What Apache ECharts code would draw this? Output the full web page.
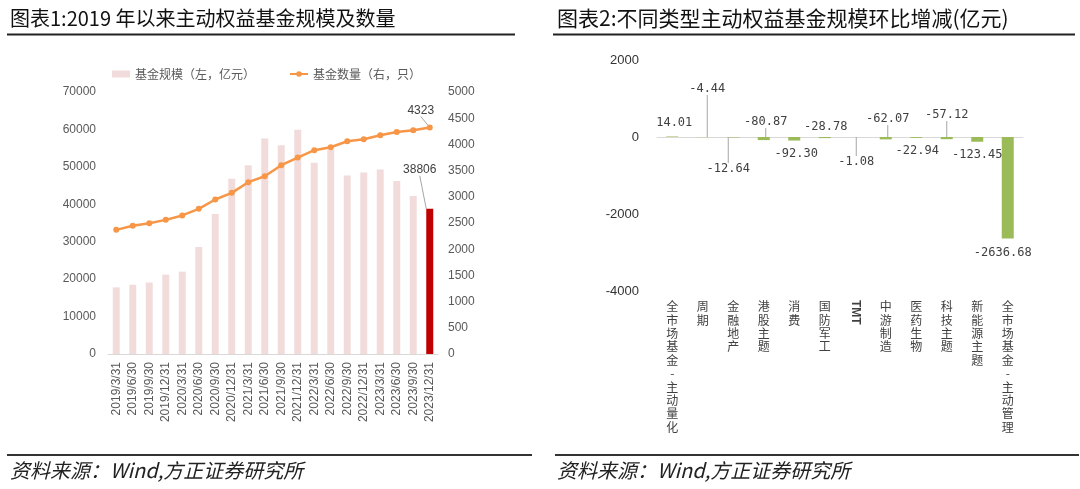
<!DOCTYPE html>
<html>
<head>
<meta charset="utf-8">
<script src="https://cdn.jsdelivr.net/npm/echarts@6/dist/echarts.min.js"></script>
<style>
html,body{margin:0;padding:0;background:#fff;}
#c{width:1080px;height:489px;}
</style>
</head>
<body>
<div id="c"></div>
<script>
// ---------- data ----------
const categoriesL = ['2019/3/31','2019/6/30','2019/9/30','2019/12/31','2020/3/31','2020/6/30','2020/9/30','2020/12/31','2021/3/31','2021/6/30','2021/9/30','2021/12/31','2022/3/31','2022/6/30','2022/9/30','2022/12/31','2023/3/31','2023/6/30','2023/9/30','2023/12/31'];
const fundScale = [17800,18500,19100,21200,22000,28600,37400,46800,50400,57600,55800,59900,51100,54600,47700,48500,49300,46200,42200,38806];
const fundCount = [2369,2446,2497,2560,2644,2770,2949,3075,3279,3393,3603,3749,3889,3946,4060,4098,4175,4238,4270,4323];

const categoriesR = ['全市场基金-主动量化','周期','金融地产','港股主题','消费','国防军工','TMT','中游制造','医药生物','科技主题','新能源主题','全市场基金-主动管理'];
const changeR = [14.01,-4.44,-12.64,-80.87,-92.30,-28.78,-1.08,-62.07,-22.94,-57.12,-123.45,-2636.68];

const legendNames = ['基金规模（左，亿元）','基金数量（右，只）'];
const title1 = '图表1:2019 年以来主动权益基金规模及数量';
const title2 = '图表2:不同类型主动权益基金规模环比增减(亿元)';
const sourceText = '资料来源：Wind,方正证券研究所';

// ---------- styles ----------
const CJK = '"Noto Sans CJK SC","Noto Sans",sans-serif';
const LAT = '"Liberation Sans",Arial,sans-serif';
// label offsets (dx, dy) for right chart relative to bar centre / zero line
const rOffsets = [[2,-14],[4.5,-48],[-5,32],[2,-15],[2,17],[1,-10.5],[1,25],[2,-18],[1,14],[0,-22],[0,18],[-5,116]];
const rLeader = [false,true,true,true,false,false,true,true,false,true,false,false];
const plain = v => String(v);

const chart = echarts.init(document.getElementById('c'), null, {renderer:'canvas'});

const lastIdx = fundScale.length - 1;
const barData = fundScale.map((v,i) => i === lastIdx ? {
  value: v,
  itemStyle: {color:'#C00000'},
  label: {show:true},
  labelLine: {show:true}
} : v);
const lineData = fundCount.map((v,i) => i === lastIdx ? {
  value: v,
  label: {show:true},
  labelLine: {show:true}
} : v);
const rData = changeR.map((v,i) => ({value: v, labelLine: {show: rLeader[i]}}));

const option = {
  backgroundColor: '#fff',
  animation: false,
  legend: {
    left: 107, top: 63,
    itemWidth: 18, itemHeight: 7, itemGap: 34,
    textStyle: {color:'#595959', fontSize:12, fontFamily: CJK},
    data: [{name: legendNames[0], icon:'rect'}, {name: legendNames[1]}]
  },
  grid: [
    {left:108, right:642, top:92, bottom:135},
    {left:657, right:57, top:60, bottom:198}
  ],
  xAxis: [
    {
      type:'category', gridIndex:0, data: categoriesL,
      axisLine:{lineStyle:{color:'#D9D9D9'}}, axisTick:{show:false},
      axisLabel:{rotate:90, interval:0, margin:8, color:'#595959', fontSize:12, fontFamily: LAT}
    },
    {
      type:'category', gridIndex:1, data: categoriesR, position:'bottom',
      axisLine:{show:false, onZero:false}, axisTick:{show:false},
      axisLabel:{interval:0, margin:9, color:'#404040', fontSize:12, lineHeight:13.4, fontFamily: CJK,
        formatter: v => v === 'TMT' ? '' : v.split('').join('\n')}
    },
    {
      type:'category', gridIndex:1, data: categoriesR, position:'top',
      axisLine:{show:true, onZero:true, lineStyle:{color:'#D9D9D9'}}, axisTick:{show:false},
      axisLabel:{show:false}
    }
  ],
  yAxis: [
    {
      type:'value', gridIndex:0, min:0, max:70000, interval:10000,
      splitLine:{show:false}, axisLine:{show:false}, axisTick:{show:false},
      axisLabel:{margin:12, color:'#595959', fontSize:12, fontFamily: LAT, formatter: plain}
    },
    {
      type:'value', gridIndex:0, position:'right', min:0, max:5000, interval:500,
      splitLine:{show:false}, axisLine:{show:false}, axisTick:{show:false},
      axisLabel:{margin:10, color:'#595959', fontSize:12, fontFamily: LAT, formatter: plain}
    },
    {
      type:'value', gridIndex:1, min:-4000, max:2000, interval:2000,
      splitLine:{show:false}, axisLine:{show:false}, axisTick:{show:false},
      axisLabel:{margin:18, color:'#333333', fontSize:13, fontFamily: LAT, formatter: plain}
    }
  ],
  series: [
    {
      name: legendNames[0], type:'bar', xAxisIndex:0, yAxisIndex:0,
      data: barData, barWidth:7,
      itemStyle:{color:'#F2DCDB'},
      label:{show:false, color:'#404040', fontSize:12, fontFamily: LAT},
      labelLine:{show:false, lineStyle:{color:'#A6A6A6', width:1}},
      labelLayout: p => ({x: p.rect.x + p.rect.width/2 - 10, y: Math.min(p.rect.y, p.rect.y + p.rect.height) - 39, align:'center', verticalAlign:'middle'}),
      z: 2
    },
    {
      name: legendNames[1], type:'line', xAxisIndex:0, yAxisIndex:1,
      data: lineData,
      symbol:'circle', symbolSize:6,
      lineStyle:{color:'#F79646', width:2.5},
      itemStyle:{color:'#F79646'},
      label:{show:false, color:'#404040', fontSize:12, fontFamily: LAT},
      labelLine:{show:false, lineStyle:{color:'#A6A6A6', width:1}},
      labelLayout: p => ({x: p.rect.x + p.rect.width/2 - 9, y: p.rect.y + p.rect.height/2 - 17, align:'center', verticalAlign:'middle'}),
      z: 3
    },
    {
      name: 'change', type:'bar', xAxisIndex:1, yAxisIndex:2,
      data: rData, barWidth:12,
      itemStyle:{color:'#9BBB59'},
      label:{show:true, position:'inside', color:'#404040', fontSize:12, fontFamily:'"DejaVu Sans Mono",monospace',
        formatter: p => Number(p.value).toFixed(2)},
      labelLine:{show:true, lineStyle:{color:'#A6A6A6', width:1}},
      labelLayout: p => {
        const o = rOffsets[p.dataIndex];
        const r = p.rect;
        const top = Math.min(r.y, r.y + r.height), bot = Math.max(r.y, r.y + r.height);
        const zeroY = changeR[p.dataIndex] >= 0 ? bot : top;
        return {x: r.x + r.width/2 + o[0], y: zeroY + o[1], align:'center', verticalAlign:'middle'};
      }
    }
  ],
  graphic: [
    {type:'text', left:10, top:8, style:{text:title1, font:'20px ' + CJK, fill:'#111'}},
    {type:'text', left:557, top:8, style:{text:title2, font:'21px ' + CJK, fill:'#111'}},
    {type:'rect', shape:{x:7, y:33.5, width:508, height:2}, style:{fill:'#222'}},
    {type:'rect', shape:{x:553, y:33.5, width:522, height:2}, style:{fill:'#222'}},
    {type:'rect', shape:{x:7, y:454, width:525, height:2}, style:{fill:'#333'}},
    {type:'rect', shape:{x:555, y:454, width:524, height:2}, style:{fill:'#333'}},
    {type:'text', left:10, top:460, style:{text:sourceText, font:'italic 20px ' + CJK, fill:'#222'}},
    {type:'text', left:557, top:460, style:{text:sourceText, font:'italic 20px ' + CJK, fill:'#222'}}
  ]
};
chart.setOption(option);

// rotated "TMT" category label placed via the axis scale
const tx = chart.convertToPixel({xAxisIndex:1}, 'TMT');
const by = chart.convertToPixel({yAxisIndex:2}, -4000);
const g = option.graphic.slice();
g.push({type:'text', x: tx, y: by + 9, rotation: -Math.PI/2,
  style:{text:'TMT', font:'bold 12px ' + LAT, fill:'#404040', align:'left', verticalAlign:'middle'}});
chart.setOption({graphic: g});
</script>
</body>
</html>
